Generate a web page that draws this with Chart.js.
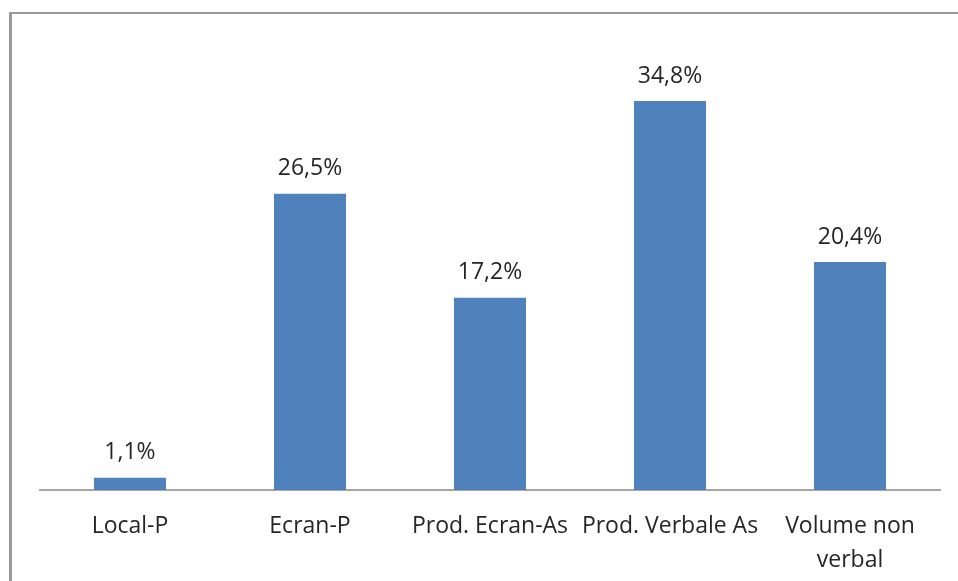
<!DOCTYPE html>
<html><head><meta charset="utf-8">
<script src="https://cdn.jsdelivr.net/npm/chart.js@4"></script>
<style>
html,body{margin:0;padding:0;background:#fff;}
#wrap{position:relative;width:958px;height:581px;}
#frame{position:absolute;left:9px;top:12px;width:1000px;height:1000px;border-left:3px solid #9a9a9a;border-top:2px solid #9a9a9a;box-sizing:border-box;}
canvas{position:absolute;left:0;top:0;}
</style></head>
<body><div id="wrap"><div id="frame"></div><canvas id="c" width="958" height="581"></canvas></div>
<script>
const categories = [["Local-P"], ["Ecran-P"], ["Prod. Ecran-As"], ["Prod. Verbale As"], ["Volume non", "verbal"]];
const values = [1.1, 26.5, 17.2, 34.8, 20.4];
const valueLabels = ["1,1%", "26,5%", "17,2%", "34,8%", "20,4%"];

const FONT = "'Open Sans', Lato, sans-serif";
const labelPlugin = {
  id: 'valLabels',
  afterDatasetsDraw(chart) {
    const ctx = chart.ctx;
    const meta = chart.getDatasetMeta(0);
    ctx.save();
    ctx.fillStyle = '#262626';
    ctx.font = '23px ' + FONT;
    ctx.textAlign = 'center';
    ctx.textBaseline = 'middle';
    meta.data.forEach((bar, i) => {
      ctx.fillText(valueLabels[i], bar.x, bar.y - 25);
    });
    ctx.restore();
  }
};

new Chart(document.getElementById('c'), {
  type: 'bar',
  data: {
    labels: categories,
    datasets: [{
      data: values,
      backgroundColor: '#4f81bd',
      borderWidth: 0,
      barPercentage: 0.8,
      categoryPercentage: 0.5
    }]
  },
  options: {
    responsive: false,
    animation: false,
    devicePixelRatio: 1,
    layout: { padding: { left: 40, right: 18, top: 43, bottom: 0 } },
    plugins: { legend: { display: false }, tooltip: { enabled: false } },
    scales: {
      x: {
        grid: { display: false, drawTicks: false },
        border: { display: true, color: '#a6a6a6', width: 2 },
        ticks: { color: '#262626', font: { family: FONT, size: 23, lineHeight: 1.45 }, padding: 20, maxRotation: 0, autoSkip: false },
        afterFit(scale) { scale.height = 91; }
      },
      y: {
        display: false,
        min: 0,
        max: 40
      }
    }
  },
  plugins: [labelPlugin]
});
</script></body></html>
